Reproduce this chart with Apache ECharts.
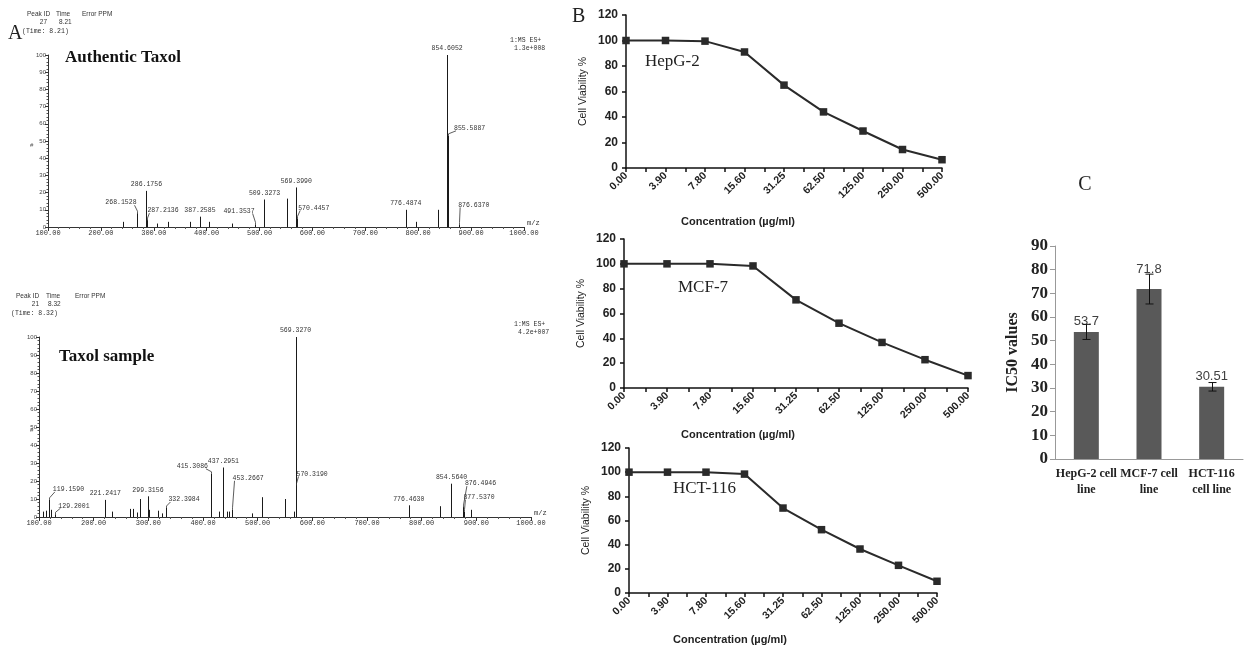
<!DOCTYPE html>
<html><head><meta charset="utf-8">
<script src="https://cdn.jsdelivr.net/npm/echarts@6/dist/echarts.min.js"></script>
<style>html,body{margin:0;padding:0;background:#fff}#c{width:1252px;height:647px}</style>
</head><body><div id="c"></div>
<script>
// ---------- Panel A : mass spectra ----------
const specA_mz  = [242, 268.1528, 286.1756, 287.2136, 307, 326, 368, 387.2585, 404, 447, 491.3537, 509.3273, 552, 569.3990, 570.4457, 776.4874, 795, 837, 854.6052, 855.5887, 876.6370];
const specA_int = [3, 8, 21, 4, 2, 3, 3, 6, 3, 2, 1.5, 16, 16.5, 23, 5, 10, 3, 10, 100, 53, 1.5];
const specA_lab = ['', '268.1528', '286.1756', '287.2136', '', '', '', '387.2585', '', '', '491.3537', '509.3273', '', '569.3990', '570.4457', '776.4874', '', '', '854.6052', '855.5887', '876.6370'];

const specB_mz  = [108, 112, 119.1590, 122, 129.2001, 221.2417, 233, 266, 272, 279, 285, 299.3156, 301, 318, 325, 332.3984, 415.3086, 429, 437.2951, 443, 448, 453.2667, 489, 508, 550, 567, 569.3270, 570.3190, 776.4630, 833, 854.5640, 876.4946, 877.5370, 890];
const specB_int = [3, 3.5, 9.5, 4, 1.5, 9.5, 3, 4.5, 4.5, 2.5, 10, 11.5, 4, 3.5, 2, 5, 24, 3, 27.5, 3, 3, 4, 2, 11, 10, 3, 100, 17.5, 6.5, 6, 18.5, 5.5, 3, 4];
const specB_lab = ['', '', '119.1590', '', '129.2001', '221.2417', '', '', '', '', '', '299.3156', '', '', '', '332.3984', '415.3086', '', '437.2951', '', '', '453.2667', '', '', '', '', '569.3270', '570.3190', '776.4630', '', '854.5640', '876.4946', '877.5370', ''];

const specXTicks = [100, 200, 300, 400, 500, 600, 700, 800, 900, 1000];

// ---------- Panel B : cell viability ----------
const concentrations = ['0.00', '3.90', '7.80', '15.60', '31.25', '62.50', '125.00', '250.00', '500.00'];
const hepg2 = [100, 100, 99.5, 91, 65, 44, 29, 14.5, 6.5];
const mcf7  = [100, 100, 100, 98.3, 71, 52.2, 36.7, 22.8, 10];
const hct116 = [100, 100, 100, 98.4, 70.3, 52.4, 36.4, 22.9, 9.7];

// ---------- Panel C : IC50 ----------
const icCats = ['HepG-2 cell\nline', 'MCF-7 cell\nline', 'HCT-116\ncell line'];
const icValues = [53.7, 71.8, 30.51];
const icErrors = [3.2, 6.3, 1.8];

// ---------- styling (label offsets, px, relative to stick top) ----------
const labelShiftA = {
  '268.1528': [-16, -7], '287.2136': [16, -6], '491.3537': [-16, -10],
  '570.4457': [17, -7], '855.5887': [22, -4], '876.6370': [15, -16]
};
const labelShiftB = {
  '119.1590': [19, -7], '129.2001': [19, -5], '332.3984': [18, -5],
  '415.3086': [-19, -4], '453.2667': [16, -28], '570.3190': [16, -8],
  '876.4946': [17, -20], '877.5370': [15, -11]
};
const icLabelGap = [4, 13, 4];

const chart = echarts.init(document.getElementById('c'), null, {renderer: 'canvas'});

function stickRenderer(labels, shifts) {
  return function (params, api) {
    const mz = api.value(0), it = api.value(1);
    const top = api.coord([mz, it]);
    const base = api.coord([mz, 0]);
    const x = Math.round(top[0]) + 0.5;
    const children = [{
      type: 'line',
      shape: {x1: x, y1: base[1], x2: x, y2: top[1]},
      style: {stroke: '#1a1a1a', lineWidth: 1}
    }];
    const lab = labels[params.dataIndex];
    if (lab) {
      const s = shifts[lab];
      const o = s || [0, -3];
      const lx = top[0] + o[0], ly = top[1] + o[1];
      children.push({
        type: 'text',
        style: {text: lab, x: lx, y: ly, align: 'center', verticalAlign: 'bottom',
                font: '6.5px "Liberation Mono"', fill: '#333'}
      });
      if (s) {
        const half = lab.length * 3.9 / 2;
        const sg = o[0] > 0 ? 1 : -1;
        children.push({
          type: 'polyline',
          shape: {points: [[x, top[1]], [x, top[1] - 2], [lx - sg * (half - 2), ly - 1]]},
          style: {stroke: '#333', lineWidth: 0.8, fill: null}
        });
      }
    }
    return {type: 'group', children};
  };
}

function specXAxis(gi) {
  return {
    type: 'value', gridIndex: gi, min: specXTicks[0], max: specXTicks[specXTicks.length - 1], interval: 100,
    axisLine: {lineStyle: {color: '#333', width: 1}},
    axisTick: {length: 4, lineStyle: {color: '#333'}},
    minorTick: {show: true, splitNumber: 5, length: 2, lineStyle: {color: '#555'}},
    splitLine: {show: false},
    axisLabel: {formatter: v => v.toFixed(2), fontFamily: 'Liberation Mono', fontSize: 7, color: '#333', margin: 3},
    name: 'm/z', nameLocation: 'end', nameGap: 3,
    nameTextStyle: {fontFamily: 'Liberation Mono', fontSize: 7, color: '#333', verticalAlign: 'bottom'}
  };
}
function specYAxis(gi) {
  return {
    type: 'value', gridIndex: gi, min: 0, max: 100, interval: 10,
    axisLine: {show: true, lineStyle: {color: '#333', width: 1}},
    axisTick: {show: true, length: 3, lineStyle: {color: '#333'}},
    minorTick: {show: true, splitNumber: 5, length: 1.5, lineStyle: {color: '#555'}},
    splitLine: {show: false},
    axisLabel: {fontFamily: 'Liberation Sans', fontSize: 6, color: '#444', margin: 2}
  };
}

function concXAxis(gi) {
  return {
    type: 'value', gridIndex: gi, min: 0, max: concentrations.length - 1, interval: 0.5,
    axisLine: {lineStyle: {color: '#111', width: 1.5}},
    axisTick: {length: 4, lineStyle: {color: '#111', width: 1.5}},
    splitLine: {show: false},
    axisLabel: {
      rotate: 45, margin: 6, fontFamily: 'Liberation Sans', fontWeight: 'bold', fontSize: 10.5, color: '#222',
      formatter: v => (Number.isInteger(v) ? concentrations[v] : '')
    }
  };
}
function viaYAxis(gi) {
  return {
    type: 'value', gridIndex: gi, min: 0, max: 120, interval: 20,
    axisLine: {show: true, lineStyle: {color: '#111', width: 1.5}},
    axisTick: {show: true, length: 4, lineStyle: {color: '#111', width: 1.5}},
    splitLine: {show: false},
    axisLabel: {fontFamily: 'Liberation Sans', fontWeight: 'bold', fontSize: 12, color: '#222', margin: 8},
    name: 'Cell Viability %', nameLocation: 'middle', nameGap: 37,
    nameTextStyle: {fontFamily: 'Liberation Sans', fontSize: 10.5, color: '#222'}
  };
}
function viaSeries(gi, vals) {
  return {
    type: 'line', xAxisIndex: gi, yAxisIndex: gi,
    data: vals.map((v, i) => [i, v]),
    symbol: 'rect', symbolSize: 7.5, color: '#2a2a2a',
    lineStyle: {color: '#2a2a2a', width: 2}, itemStyle: {color: '#2a2a2a'}
  };
}

const smallSans = {fontFamily: 'Liberation Sans', fontSize: 6.5, fill: '#333'};
const smallMono = {fontFamily: 'Liberation Mono', fontSize: 6.5, fill: '#333'};
function txt(x, y, text, st, extra) {
  return Object.assign({type: 'text', x, y, style: Object.assign({text, verticalAlign: 'middle'}, st)}, extra || {});
}
const serifTitle = {fontFamily: 'Liberation Serif', fontSize: 17, fontWeight: 'bold', fill: '#111'};
const serifCell = {fontFamily: 'Liberation Serif', fontSize: 17, fill: '#222'};
const letter = {fontFamily: 'Liberation Serif', fontSize: 20, fill: '#222'};
const concTitle = {fontFamily: 'Liberation Sans', fontSize: 11, fontWeight: 'bold', fill: '#222', align: 'center'};

const option = {
  animation: false,
  backgroundColor: '#fff',
  grid: [
    {left: 48, top: 55, width: 476, height: 172},
    {left: 39, top: 337, width: 492, height: 180},
    {left: 626, top: 15, width: 316, height: 153},
    {left: 624, top: 239, width: 344, height: 149},
    {left: 629, top: 448, width: 308, height: 145},
    {left: 1055, top: 246, width: 188, height: 213}
  ],
  xAxis: [
    specXAxis(0), specXAxis(1),
    concXAxis(2), concXAxis(3), concXAxis(4),
    {
      type: 'category', gridIndex: 5, data: icCats,
      axisLine: {lineStyle: {color: '#999', width: 1}},
      axisTick: {length: 5, lineStyle: {color: '#999'}},
      axisLabel: {interval: 0, fontFamily: 'Liberation Serif', fontWeight: 'bold', fontSize: 12, lineHeight: 16, color: '#222', margin: 7}
    }
  ],
  yAxis: [
    specYAxis(0), specYAxis(1),
    viaYAxis(2), viaYAxis(3), viaYAxis(4),
    {
      type: 'value', gridIndex: 5, min: 0, max: 90, interval: 10,
      axisLine: {show: true, lineStyle: {color: '#999', width: 1}},
      axisTick: {show: true, length: 5, lineStyle: {color: '#999'}},
      splitLine: {show: false},
      axisLabel: {fontFamily: 'Liberation Serif', fontWeight: 'bold', fontSize: 17, color: '#222', margin: 7},
      name: 'IC50 values', nameLocation: 'middle', nameGap: 34,
      nameTextStyle: {fontFamily: 'Liberation Serif', fontWeight: 'bold', fontSize: 16, color: '#222'}
    }
  ],
  series: [
    {type: 'custom', xAxisIndex: 0, yAxisIndex: 0, renderItem: stickRenderer(specA_lab, labelShiftA),
     data: specA_mz.map((m, i) => [m, specA_int[i]]), clip: false},
    {type: 'custom', xAxisIndex: 1, yAxisIndex: 1, renderItem: stickRenderer(specB_lab, labelShiftB),
     data: specB_mz.map((m, i) => [m, specB_int[i]]), clip: false},
    viaSeries(2, hepg2), viaSeries(3, mcf7), viaSeries(4, hct116),
    {
      type: 'bar', xAxisIndex: 5, yAxisIndex: 5, barWidth: 25,
      data: icValues.map((v, i) => ({value: v, label: {distance: icLabelGap[i]}})),
      itemStyle: {color: '#595959'},
      label: {show: true, position: 'top', fontFamily: 'Liberation Sans', fontSize: 13, color: '#404040'}
    },
    {
      type: 'custom', xAxisIndex: 5, yAxisIndex: 5, z: 5,
      data: icValues.map((v, i) => [i, v - icErrors[i], v + icErrors[i]]),
      renderItem: function (params, api) {
        const lo = api.coord([api.value(0), api.value(1)]);
        const hi = api.coord([api.value(0), api.value(2)]);
        const x = Math.round(lo[0]) + 0.5, w = 4;
        return {type: 'group', children: [
          {type: 'line', shape: {x1: x, y1: lo[1], x2: x, y2: hi[1]}, style: {stroke: '#111', lineWidth: 1}},
          {type: 'line', shape: {x1: x - w, y1: lo[1], x2: x + w, y2: lo[1]}, style: {stroke: '#111', lineWidth: 1}},
          {type: 'line', shape: {x1: x - w, y1: hi[1], x2: x + w, y2: hi[1]}, style: {stroke: '#111', lineWidth: 1}}
        ]};
      }
    }
  ],
  graphic: [
    // Panel A header
    txt(27, 14, 'Peak ID', smallSans), txt(56, 14, 'Time', smallSans), txt(82, 14, 'Error PPM', smallSans),
    txt(47, 22, '27', Object.assign({align: 'right'}, smallSans)), txt(59, 22, '8.21', smallSans),
    txt(8, 34, 'A', letter), txt(22, 31, '(Time: 8.21)', smallMono),
    txt(510, 40, '1:MS ES+', smallMono), txt(514, 48, '1.3e+008', smallMono),
    txt(65, 58, 'Authentic Taxol', serifTitle),
    txt(30, 145, '#', {fontFamily: 'Liberation Sans', fontSize: 6, fill: '#555'}),
    // Spectrum 2 header
    txt(16, 296, 'Peak ID', smallSans), txt(46, 296, 'Time', smallSans), txt(75, 296, 'Error PPM', smallSans),
    txt(39, 304, '21', Object.assign({align: 'right'}, smallSans)), txt(48, 304, '8.32', smallSans),
    txt(11, 313, '(Time: 8.32)', smallMono),
    txt(514, 324, '1:MS ES+', smallMono), txt(518, 332, '4.2e+007', smallMono),
    txt(59, 357, 'Taxol sample', serifTitle),
    txt(30, 430, '#', {fontFamily: 'Liberation Sans', fontSize: 6, fill: '#555'}),
    // Panel B
    txt(572, 17, 'B', letter),
    txt(645, 62, 'HepG-2', serifCell),
    txt(678, 288, 'MCF-7', serifCell),
    txt(673, 489, 'HCT-116', serifCell),
    txt(738, 222, 'Concentration (µg/ml)', concTitle),
    txt(738, 435, 'Concentration (µg/ml)', concTitle),
    txt(730, 640, 'Concentration (µg/ml)', concTitle),
    // Panel C
    txt(1085, 185, 'C', Object.assign({align: 'center'}, letter))
  ]
};
chart.setOption(option);
</script>
</body></html>
